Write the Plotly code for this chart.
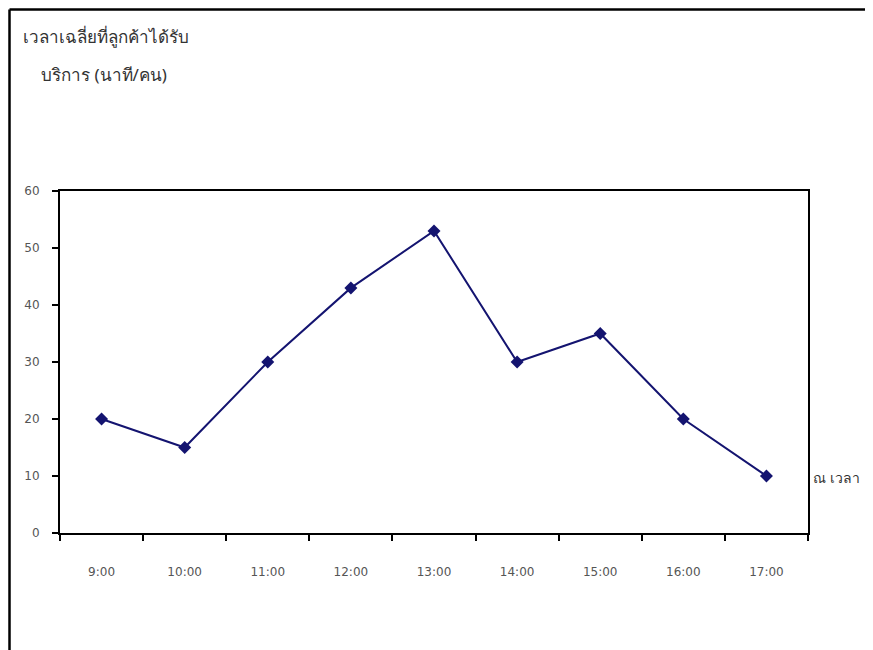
import plotly.graph_objects as go

times = ["9:00", "10:00", "11:00", "12:00", "13:00", "14:00", "15:00", "16:00", "17:00"]
avg_minutes = [20, 15, 30, 43, 53, 30, 35, 20, 10]
y_ticks = [0, 10, 20, 30, 40, 50, 60]

# page body has an 8px margin, so the figure is drawn 8px smaller and
# all reference pixel positions are shifted by OFF
OFF = 8
W, H = 873 - OFF, 650 - OFF
L, R, T, B = 60 - OFF, W - (808 - OFF), 191 - OFF, H - (533 - OFF)
pw, ph = W - L - R, H - T - B

def px(x):
    return (x - OFF - L) / pw

def py(y):
    return (H - B - (y - OFF)) / ph

fig = go.Figure()
fig.add_trace(go.Scatter(
    x=times, y=avg_minutes, mode="lines+markers",
    line=dict(color="#141470", width=2),
    marker=dict(symbol="diamond", size=10, color="#141470"),
    showlegend=False,
))

tick_font = dict(family="DejaVu Sans, Verdana, sans-serif", size=12, color="#555555")

fig.update_layout(
    width=W, height=H,
    margin=dict(l=L, r=R, t=T, b=B),
    paper_bgcolor="white", plot_bgcolor="white",
    xaxis=dict(
        type="category", range=[-0.5, 8.5],
        showline=True, linecolor="black", linewidth=2, mirror=True,
        ticks="outside", tickson="boundaries", ticklen=6, tickwidth=2, tickcolor="black",
        showgrid=False, zeroline=False, tickfont=tick_font, ticklabelstandoff=27,
    ),
    yaxis=dict(
        range=[0, 60], tickvals=y_ticks,
        showline=True, linecolor="black", linewidth=2, mirror=True,
        ticks="outside", ticklen=6, tickwidth=2, tickcolor="black",
        showgrid=False, zeroline=False, tickfont=tick_font, ticklabelstandoff=10,
    ),
    font=dict(family="DejaVu Sans, Noto Sans, sans-serif", color="#333333"),
)

label_font = dict(family="Noto Sans, DejaVu Sans, sans-serif", size=17, color="#333333")
fig.add_annotation(text="เวลาเฉลี่ยที่ลูกค้าได้รับ", xref="paper", yref="paper",
                   x=px(21), y=py(36), xanchor="left", yanchor="middle",
                   showarrow=False, font=label_font)
fig.add_annotation(text="บริการ (นาที/คน)", xref="paper", yref="paper",
                   x=px(39), y=py(74), xanchor="left", yanchor="middle",
                   showarrow=False, font=label_font)
fig.add_annotation(text="ณ เวลา", xref="paper", yref="paper",
                   x=px(811), y=py(477), xanchor="left", yanchor="middle",
                   showarrow=False, font=dict(label_font, size=14))

# outer frame (left and top edges)
fig.add_shape(type="line", xref="paper", yref="paper",
              x0=px(9.5), x1=px(9.5), y0=py(9.5), y1=py(660),
              line=dict(color="black", width=2.5))
fig.add_shape(type="line", xref="paper", yref="paper",
              x0=px(9.5), x1=px(880), y0=py(9.5), y1=py(9.5),
              line=dict(color="black", width=2.5))

fig.write_html("out.html")
